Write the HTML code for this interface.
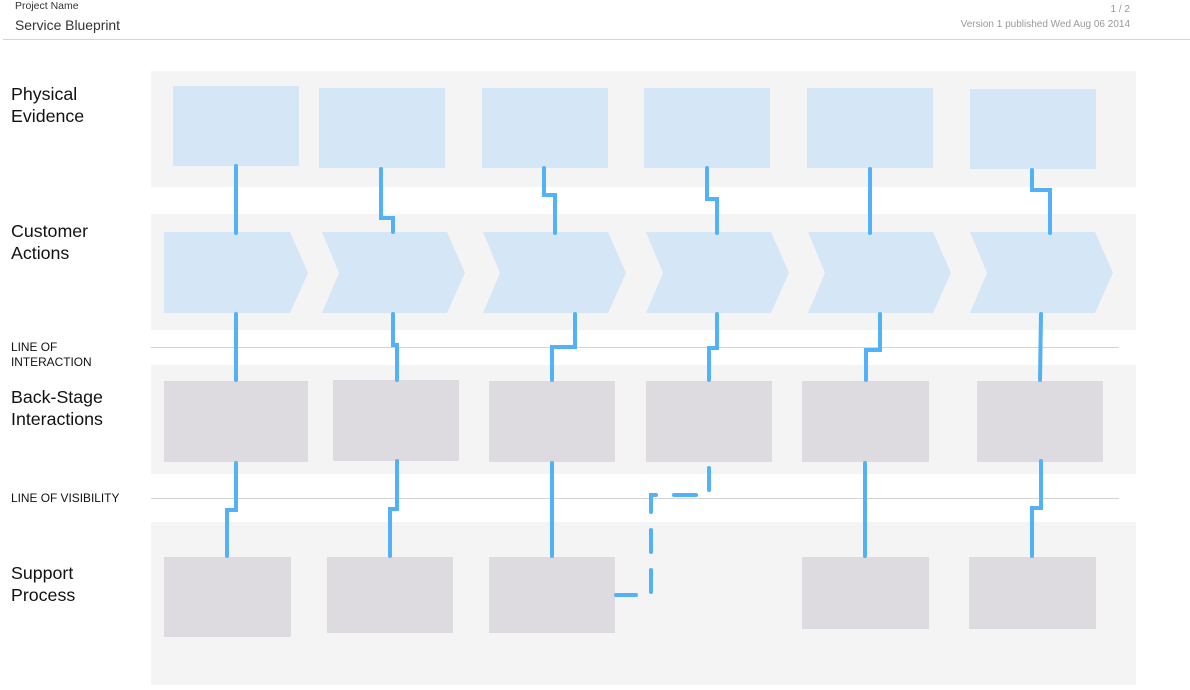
<!DOCTYPE html>
<html><head><meta charset="utf-8"><style>
body{margin:0;width:1190px;height:685px;background:#fff;overflow:hidden;font-family:"Liberation Sans",sans-serif}
</style></head><body>
<svg width="1190" height="685" xmlns="http://www.w3.org/2000/svg" font-family="Liberation Sans, sans-serif">
<text x="15" y="9" font-size="10.5" fill="#333">Project Name</text>
<text x="15" y="30" font-size="13.9" fill="#333">Service Blueprint</text>
<text x="1130" y="12" font-size="10" fill="#999" text-anchor="end">1 / 2</text>
<text x="1130" y="27" font-size="10" fill="#999" text-anchor="end">Version 1 published Wed Aug 06 2014</text>
<line x1="3" y1="39.5" x2="1190" y2="39.5" stroke="#d4d4d4"/>
<g fill="#f4f4f4">
<rect x="151" y="71" width="985" height="116"/>
<rect x="151" y="214" width="985" height="116"/>
<rect x="151" y="365" width="985" height="109"/>
<rect x="151" y="522" width="985" height="163"/>
</g>
<line x1="151" y1="347.5" x2="1119" y2="347.5" stroke="#d4d4d4"/>
<line x1="151" y1="498.5" x2="1119" y2="498.5" stroke="#d4d4d4"/>
<g font-size="17.8" fill="#111">
<text x="11" y="100">Physical</text><text x="11" y="122">Evidence</text>
<text x="11" y="237">Customer</text><text x="11" y="259">Actions</text>
<text x="11" y="403">Back-Stage</text><text x="11" y="425">Interactions</text>
<text x="11" y="579">Support</text><text x="11" y="601">Process</text>
</g>
<g font-size="11.9" fill="#111">
<text x="11" y="351">LINE OF</text><text x="11" y="366">INTERACTION</text>
<text x="11" y="502">LINE OF VISIBILITY</text>
</g>
<g fill="#d5e6f6">
<rect x="173" y="86" width="126" height="80"/>
<rect x="319" y="88" width="126" height="80"/>
<rect x="482" y="88" width="126" height="80"/>
<rect x="644" y="88" width="126" height="80"/>
<rect x="807" y="88" width="126" height="80"/>
<rect x="970" y="89" width="126" height="80"/>
<polygon points="164,232 290,232 308,273 290,313 164,313"/>
<polygon points="322,232 447,232 465,273 447,313 322,313 339,273"/>
<polygon points="483,232 608,232 626,273 608,313 483,313 500,273"/>
<polygon points="646,232 771,232 789,273 771,313 646,313 663,273"/>
<polygon points="808,232 933,232 951,273 933,313 808,313 825,273"/>
<polygon points="970,232 1095,232 1113,273 1095,313 970,313 987,273"/>
</g>
<g fill="#dddbdf">
<rect x="164" y="381" width="144" height="81"/>
<rect x="333" y="380" width="126" height="81"/>
<rect x="489" y="381" width="126" height="81"/>
<rect x="646" y="381" width="126" height="81"/>
<rect x="802" y="381" width="127" height="81"/>
<rect x="977" y="381" width="126" height="81"/>
<rect x="164" y="557" width="127" height="80"/>
<rect x="327" y="557" width="126" height="76"/>
<rect x="489" y="557" width="126" height="76"/>
<rect x="802" y="557" width="127" height="72"/>
<rect x="969" y="557" width="127" height="72"/>
</g>
<g fill="none" stroke="#52b1f7" stroke-width="4" stroke-linecap="round">
<path d="M236,166 V233 M236,314 V380 M236,463 V510 H227 V556"/>
<path d="M381,169 V218 H393 V232 M393,314 V345 H397 V380 M397,461 V509 H390 V556"/>
<path d="M544,168 V195 H555 V233 M575,314 V347 H552 V380 M552,463 V556"/>
<path d="M707,168 V199 H717 V233 M717,314 V348 H709 V380"/>
<path d="M870,169 V233 M880,314 V350 H866 V380 M865,463 V556"/>
<path d="M1032,170 V190 H1050 V233 M1041,314 L1040,380 M1041,461 V508 H1032 V556"/>
<path d="M709,468 V495 H651 V595 H616" stroke-dasharray="22,18"/>
</g>
</svg>
</body></html>
